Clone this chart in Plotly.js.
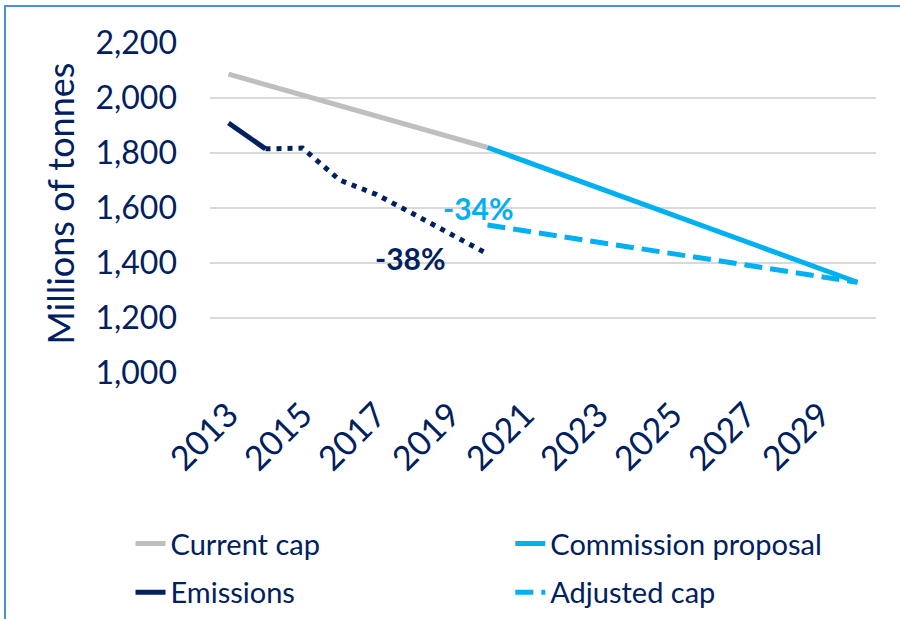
<!DOCTYPE html>
<html>
<head>
<meta charset="utf-8">
<script src="https://cdn.plot.ly/plotly-3.0.1.min.js"></script>
<style>
  html, body { margin: 0; padding: 0; overflow: hidden; background: #fff; }
  #chart { width: 900px; height: 619px; }
  #frame {
    position: absolute; left: 4px; top: 5px; width: 900px; height: 640px;
    border: 2px solid #4a8fdc; box-sizing: border-box; pointer-events: none;
  }
</style>
</head>
<body>
<div id="chart"></div>
<div id="frame"></div>
<script>
// === Datos ===
const years = ["2013", "2014", "2015", "2016", "2017", "2018", "2019", "2020", "2021",
  "2022", "2023", "2024", "2025", "2026", "2027", "2028", "2029", "2030"];
const tickYears = ["2013", "2015", "2017", "2019", "2021", "2023", "2025", "2027", "2029"];

const capYears = ["2013", "2020"];
const currentCap = [2087, 1820];

const proposalYears = ["2020", "2030"];
const proposal = [1820, 1330];

const emissionsYears = ["2013", "2014"];
const emissions = [1909, 1815];

const projYears = ["2014", "2015", "2016", "2017", "2018", "2019", "2020"];
const emissionsProj = [1815, 1818, 1702, 1649, 1578, 1505, 1433];

const adjustedYears = ["2020", "2030"];
const adjustedCap = [1538, 1330];

// === Colores ===
const navy = "#002060";
const lightBlue = "#00b0f0";
const grey = "#bfbfbf";
const font = "Lato, 'Open Sans', sans-serif";

const traces = [
  { x: capYears, y: currentCap, mode: "lines", name: "Current cap",
    legend: "legend", legendgroup: "a", line: { color: grey, width: 5 } },
  { x: proposalYears, y: proposal, mode: "lines", name: "Commission proposal",
    legend: "legend2", legendgroup: "b", line: { color: lightBlue, width: 5 } },
  { x: emissionsYears, y: emissions, mode: "lines", name: "Emissions",
    legend: "legend", legendgroup: "c", line: { color: navy, width: 5 } },
  { x: adjustedYears, y: adjustedCap, mode: "lines", name: "Adjusted cap",
    legend: "legend2", legendgroup: "d", line: { color: lightBlue, width: 5, dash: "18px,8px" } },
  { x: projYears, y: emissionsProj, mode: "lines", showlegend: false,
    line: { color: navy, width: 5, dash: "5px,6px" } }
];

// leyenda en dos columnas
const legendBase = {
  xref: "container", yref: "container",
  xanchor: "left", yanchor: "top",
  traceorder: "grouped",
  tracegroupgap: 8,
  font: { size: 29, color: navy }
};

const layout = {
  width: 900,
  height: 619,
  margin: { l: 210, r: 24, t: 43, b: 246, autoexpand: false },
  paper_bgcolor: "#fff",
  plot_bgcolor: "#fff",
  font: { family: font, color: navy, size: 32 },
  showlegend: true,
  legend: Object.assign({ x: 0.145, y: 0.163 }, legendBase),
  legend2: Object.assign({ x: 0.567, y: 0.163 }, legendBase),
  xaxis: {
    type: "category",
    categoryorder: "array",
    categoryarray: years,
    range: [-0.5, 17.5],
    tickmode: "array",
    tickvals: tickYears,
    ticktext: tickYears,
    tickangle: -45,
    showgrid: false,
    showline: false,
    zeroline: false,
    ticks: "",
    ticklabelstandoff: 14,
    tickfont: { size: 34, color: navy }
  },
  yaxis: {
    range: [1000, 2200],
    dtick: 200,
    tickformat: ",d",
    gridcolor: "#d9d9d9",
    gridwidth: 1.5,
    zeroline: false,
    showline: false,
    ticks: "",
    ticklabelstandoff: 32,
    tickfont: { size: 32, color: navy }
  },
  annotations: [
    // título del eje Y
    { x: -0.261, y: 0.514, xref: "paper", yref: "paper", text: "Millions of tonnes",
      textangle: -90, showarrow: false, font: { size: 36, color: navy, family: font } },
    { x: 6.76, y: 1600, xref: "x", yref: "y", text: "<b>-34%</b>", showarrow: false,
      font: { size: 30, color: lightBlue, family: font } },
    { x: 4.92, y: 1418, xref: "x", yref: "y", text: "<b>-38%</b>", showarrow: false,
      font: { size: 30, color: navy, family: font } }
  ]
};

Plotly.newPlot("chart", traces, layout, { displayModeBar: false, staticPlot: true });
</script>
</body>
</html>
